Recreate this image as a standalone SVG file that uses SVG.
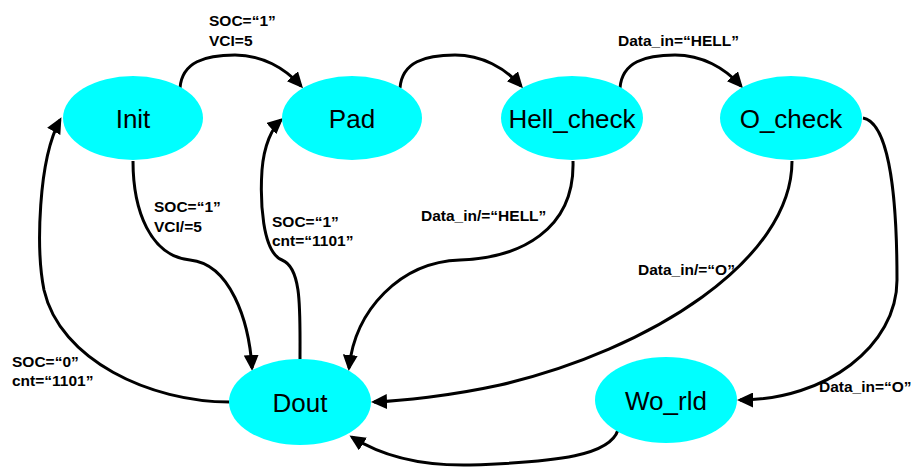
<svg xmlns="http://www.w3.org/2000/svg" width="913" height="468" viewBox="0 0 913 468">
<defs>
<style>
.node ellipse{fill:#00FFFF;stroke:none}
.node text{font-family:"Liberation Sans",Arial,sans-serif;font-size:26px;fill:#000;text-anchor:middle}
.edges path{fill:none;stroke:#000;stroke-width:3;marker-end:url(#arr)}
.lbl{font-family:"Liberation Sans",Arial,sans-serif;font-size:15.5px;font-weight:bold;fill:#000}
</style>
<marker id="arr" markerUnits="userSpaceOnUse" markerWidth="16" markerHeight="15" refX="13" refY="7.5" orient="auto">
<path d="M0,0 L16,7.5 L0,15 z" fill="#000"/>
</marker>
</defs>
<rect width="913" height="468" fill="#fff"/>
<g class="edges">
<path d="M180,88 C182,62 205,55 235,55 C262,55 285,68 301,86"/>
<path d="M400,88 C402,62 425,55 455,55 C482,55 505,68 521,86"/>
<path d="M620,88 C622,62 645,55 675,55 C702,55 725,68 741,86"/>
<path d="M133,161 C133,210 150,256 190,260 C230,264 249,320 252,368"/>
<path d="M300,359 C300,310 302,268 282,260 C262,252 260,200 262,170 C264,145 272,128 281,120"/>
<path d="M230,402 C150,402 60,360 44,290 C36,250 38,160 60,120"/>
<path d="M573,161 C575,230 520,258 460,260 C400,262 355,310 349,368"/>
<path d="M792,161 C792,260 650,350 500,385 C450,396 400,401 374,402"/>
<path d="M863,118 C886,122 897,180 897,280 C897,346 826,400 740,400"/>
<path d="M618,430 C610,455 560,462 470,465 C420,466 380,455 352,437"/>
</g>
<g id="Init" class="node"><ellipse cx="133" cy="118" rx="70" ry="42"/><text x="133" y="127.5">Init</text></g>
<g id="Pad" class="node"><ellipse cx="352" cy="118" rx="70" ry="42"/><text x="352" y="127.5">Pad</text></g>
<g id="Hell_check" class="node"><ellipse cx="572" cy="118" rx="71" ry="42"/><text x="572" y="127.5">Hell_check</text></g>
<g id="O_check" class="node"><ellipse cx="791" cy="118" rx="71" ry="42"/><text x="791" y="127.5">O_check</text></g>
<g id="Dout" class="node"><ellipse cx="300" cy="402" rx="71" ry="43"/><text x="300" y="411.5">Dout</text></g>
<g id="Wo_rld" class="node"><ellipse cx="666" cy="400" rx="71" ry="43"/><text x="666" y="409.5">Wo_rld</text></g>
<g id="labels">
<text class="lbl" x="209" y="26">SOC=“1”</text>
<text class="lbl" x="209" y="46">VCI=5</text>
<text class="lbl" x="618" y="46">Data_in=“HELL”</text>
<text class="lbl" x="154" y="212">SOC=“1”</text>
<text class="lbl" x="154" y="232">VCI/=5</text>
<text class="lbl" x="272" y="227">SOC=“1”</text>
<text class="lbl" x="272" y="246">cnt=“1101”</text>
<text class="lbl" x="421" y="221">Data_in/=“HELL”</text>
<text class="lbl" x="638" y="275">Data_in/=“O”</text>
<text class="lbl" x="819" y="392">Data_in=“O”</text>
<text class="lbl" x="12" y="367">SOC=“0”</text>
<text class="lbl" x="12" y="386">cnt=“1101”</text>
</g>
</svg>
